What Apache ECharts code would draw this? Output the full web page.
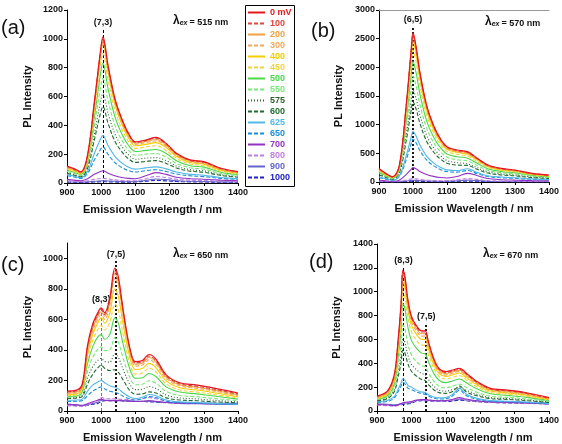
<!DOCTYPE html>
<html><head><meta charset="utf-8">
<script src="https://cdn.jsdelivr.net/npm/echarts@6/dist/echarts.min.js"></script>
<style>html,body{margin:0;padding:0;background:#fff}#c{width:562px;height:444px}</style>
</head><body><div id="c"></div>
<script>
const names = ['0 mV','100','200','300','400','450','500','550','575','600','625','650','700','800','900','1000'];
const colors = ['#e3161c','#e0453e','#f0a040','#f3a85e','#f5cc00','#f2d33c','#4cd64c','#7ae87a','#2e5e2e','#1f6b30','#52b6e6','#1a8fd6','#9232c4','#c07ee0','#6464c8','#1e22c0'];
const styles = ['solid','dashed','solid','dashed','solid','dashed','solid','dashed','dotted','dashed','solid','dashed','solid','dashed','solid','dashed'];
const xTicks = [900,1000,1100,1200,1300,1400];

// Panel (a) λex = 515 nm
const aX = [900,920,940,960,980,1000,1005,1020,1040,1060,1080,1100,1130,1160,1190,1220,1260,1300,1350,1400];
const aY = [
[118,100,78,194,563,956,1014,818,587,448,344,286,298,316,275,206,160,148,102,79],
[115,97,75,188,555,945,1000,805,578,440,338,282,294,310,270,202,157,144,100,77],
[110,94,72,182,548,935,990,795,570,432,330,276,288,302,264,198,152,140,96,74],
[105,90,70,175,540,925,980,785,560,422,322,268,280,292,256,192,148,135,92,71],
[100,86,66,168,528,915,970,770,548,410,312,258,268,280,246,184,142,130,88,68],
[95,80,62,158,495,855,900,715,505,378,288,240,250,258,226,170,132,120,82,63],
[88,75,58,145,455,790,830,655,460,342,260,218,226,232,205,155,120,110,75,58],
[80,68,52,130,400,690,725,570,400,298,228,192,200,205,180,136,106,96,66,51],
[72,60,46,112,340,590,620,485,340,255,195,165,172,176,155,118,92,84,58,45],
[68,56,43,102,300,505,530,415,290,218,168,143,150,155,136,104,82,74,52,40],
[58,48,36,80,205,315,330,260,185,140,110,96,105,112,98,76,60,54,38,30],
[50,42,31,66,160,240,250,198,142,108,86,76,86,92,80,62,50,44,32,25],
[25,20,16,30,60,82,85,68,50,38,32,30,50,72,60,40,30,26,20,16],
[15,12,10,15,25,32,33,28,22,18,16,16,30,45,38,26,20,17,13,11],
[8,7,6,8,12,15,16,14,12,10,9,10,18,28,24,16,12,10,8,7],
[5,5,4,5,7,9,10,8,7,6,6,7,12,18,15,10,8,7,5,5]];

// Panel (b) λex = 570 nm
const bX = [900,920,940,960,980,995,1000,1010,1020,1040,1060,1080,1100,1130,1160,1190,1220,1260,1300,1350,1400];
const bY = [
[238,151,93,296,1342,2330,2600,2330,1923,1342,993,761,616,558,529,412,296,238,209,151,122],
[230,146,90,288,1320,2310,2580,2310,1905,1325,980,750,606,548,518,404,290,232,204,147,118],
[222,140,86,280,1300,2285,2550,2285,1880,1305,965,738,596,538,508,396,284,226,198,143,114],
[214,135,83,272,1280,2260,2520,2255,1855,1285,950,726,585,528,498,388,278,220,193,139,110],
[205,130,80,262,1250,2200,2450,2195,1805,1250,925,706,570,514,484,378,270,214,187,135,107],
[192,122,75,246,1170,2060,2300,2060,1690,1170,865,662,535,482,454,354,254,200,176,126,100],
[178,112,70,228,1075,1885,2100,1880,1545,1070,790,605,490,440,415,324,232,184,160,116,92],
[160,100,63,205,950,1660,1850,1655,1360,940,695,532,432,388,366,285,205,162,141,102,81],
[142,90,56,182,825,1440,1600,1435,1180,815,603,462,375,337,318,248,178,140,122,89,70],
[128,80,50,162,720,1260,1400,1255,1030,712,527,404,328,295,290,218,156,123,107,78,62],
[90,56,35,110,455,790,880,790,648,450,334,258,212,200,230,165,110,86,74,54,43],
[78,48,30,95,388,673,750,673,552,384,285,220,182,172,200,142,95,74,64,47,37],
[30,20,14,32,130,225,250,225,185,130,98,78,70,95,150,110,60,40,32,24,20],
[14,10,7,12,35,55,60,55,46,34,27,23,24,38,60,45,25,16,13,10,8],
[8,6,4,7,18,28,30,28,24,18,14,12,13,20,32,24,14,9,7,6,5],
[4,3,2,4,9,14,15,14,12,9,7,6,7,10,16,12,7,5,4,3,3]];

// Panel (c) λex = 650 nm
const cX = [900,930,945,960,975,990,1000,1010,1025,1040,1050,1065,1085,1100,1120,1140,1160,1190,1230,1280,1330,1400];
const cY = [
[130,138,180,430,568,643,675,643,740,935,880,650,400,323,331,370,340,237,185,170,150,118],
[125,133,172,418,555,632,665,632,726,920,865,638,392,315,322,360,330,230,178,162,142,112],
[118,126,165,405,540,620,650,620,710,900,845,622,382,305,312,350,320,222,172,155,136,106],
[112,120,158,390,522,600,630,600,690,870,818,602,368,294,300,336,306,212,164,148,130,100],
[106,113,150,370,500,578,610,575,640,800,752,555,340,272,278,312,284,197,152,137,120,93],
[100,106,142,340,460,532,560,530,580,700,660,490,302,242,248,280,256,178,138,124,108,85],
[95,100,130,310,420,485,500,470,500,610,575,430,266,214,218,246,226,158,124,112,98,78],
[90,95,118,260,350,405,420,395,400,480,452,340,212,172,175,198,182,128,102,93,82,68],
[85,90,106,215,288,332,345,325,320,375,352,268,170,140,142,160,148,105,86,79,70,60],
[82,86,96,175,240,282,300,280,265,270,255,200,130,110,112,125,118,86,72,67,60,54],
[70,72,78,130,170,190,200,185,165,155,145,118,90,82,90,108,100,72,60,56,50,45],
[62,64,68,100,130,148,158,145,130,122,115,96,78,72,80,95,88,64,54,50,46,42],
[45,40,38,48,60,70,78,70,68,68,68,66,64,62,64,68,64,56,50,48,46,44],
[35,32,30,38,55,70,90,82,80,80,78,76,74,72,80,88,80,64,56,52,48,44],
[42,38,36,42,50,58,72,70,70,70,70,68,66,64,64,64,60,56,54,52,50,50],
[40,36,34,38,45,50,62,68,68,68,68,66,64,62,62,60,58,55,52,50,48,48]];

// Panel (d) λex = 670 nm
const dX = [900,930,950,960,970,975,980,990,1000,1015,1030,1040,1050,1065,1080,1100,1120,1140,1160,1190,1230,1280,1330,1400];
const dY = [
[126,167,303,549,904,1180,1150,931,795,713,672,672,576,440,358,330,344,358,317,248,190,175,155,112],
[122,162,296,540,892,1168,1138,920,786,704,662,662,566,432,350,322,336,350,310,242,185,170,150,108],
[118,156,288,528,875,1150,1120,905,772,690,648,648,553,422,342,314,328,342,302,236,180,165,145,105],
[114,150,278,512,850,1120,1090,880,750,670,628,628,535,408,330,303,317,332,292,228,174,158,140,101],
[110,144,266,490,815,1080,1050,846,720,642,600,600,512,390,316,290,304,318,280,219,167,152,134,97],
[105,136,248,455,755,1000,972,782,665,592,552,552,470,360,292,268,282,296,260,204,156,142,125,92],
[100,128,228,415,682,900,875,700,592,525,485,480,410,316,258,238,252,268,236,186,144,131,116,87],
[95,118,200,355,560,720,700,558,470,415,380,372,318,250,208,194,208,224,198,158,124,114,102,80],
[90,110,180,310,470,600,585,465,392,345,314,305,262,208,176,166,180,196,174,140,112,104,94,75],
[86,102,162,268,405,510,496,395,333,292,264,255,220,178,154,148,164,210,160,128,104,97,88,72],
[78,88,120,175,235,270,262,215,200,175,160,155,136,118,110,112,140,190,140,106,88,82,76,64],
[72,80,108,155,210,240,232,192,180,160,146,140,124,108,100,102,128,175,128,98,82,77,72,60],
[55,50,45,50,62,70,72,75,80,92,95,95,92,88,86,88,98,112,100,86,76,72,68,60],
[50,45,42,45,55,65,68,72,75,88,92,90,88,84,82,84,92,105,92,80,72,68,64,58],
[60,56,52,55,60,65,66,68,72,88,92,92,90,88,86,86,90,98,92,84,78,74,70,66],
[52,48,45,48,52,56,58,60,65,82,86,86,84,82,80,80,84,90,86,78,72,68,65,60]];

// y-axis ranges
const yMax = [1200,3000,1100,1400];
const yStep = [200,500,200,200];
const excitation = ['515','570','650','670'];
const panelTags = ['(a)','(b)','(c)','(d)'];
// assignment markers: [wavelength, line top, label, style]
const peaksA = [[1005,1065,'(7,3)','a']];
const peaksB = [[1000,2720,'(6,5)','b']];
const peaksC = [[1000,690,'(8,3)','g'],[1043,985,'(7,5)','b']];
const peaksD = [[977,1205,'(8,3)','a'],[1043,735,'(7,5)','b']];

const panels = [
  {x:aX, y:aY, peaks:peaksA, grid:{left:67, top:10, width:171, height:173}},
  {x:bX, y:bY, peaks:peaksB, grid:{left:379, top:10, width:171, height:172}},
  {x:cX, y:cY, peaks:peaksC, grid:{left:67, top:243, width:171, height:172}},
  {x:dX, y:dY, peaks:peaksD, grid:{left:377, top:244, width:173, height:171}}
];

const FF = 'Arial, "Liberation Sans", sans-serif';
const grids = [], xAxes = [], yAxes = [], series = [], graphics = [];
const tickLab = {fontSize:9, fontWeight:'bold', color:'#111', fontFamily:FF, formatter: v => String(v)};
const dashOf = k => styles[k]==='dashed' ? [4,2] : (styles[k]==='dotted' ? [1,2] : 'solid');

panels.forEach((p, gi) => {
  grids.push(Object.assign({containLabel:false}, p.grid));
  xAxes.push({gridIndex:gi, type:'value', min:900, max:1400, interval:100,
    name:'Emission Wavelength / nm', nameLocation:'middle', nameGap:21,
    nameTextStyle:{fontWeight:'bold', fontSize:11, color:'#111', fontFamily:FF},
    axisLine:{lineStyle:{color:'#000', width:1}},
    axisTick:{length:3, lineStyle:{color:'#000'}},
    axisLabel:Object.assign({margin:5}, tickLab),
    splitLine:{show:false}});
  yAxes.push({gridIndex:gi, type:'value', min:0, max:yMax[gi], interval:yStep[gi],
    name:'PL Intensity', nameLocation:'middle', nameGap: gi===1||gi===3 ? 35 : 34,
    nameTextStyle:{fontWeight:'bold', fontSize:11, color:'#111', fontFamily:FF},
    axisLine:{show:true, lineStyle:{color:'#000', width:1}},
    axisTick:{show:true, length:3, lineStyle:{color:'#000'}},
    axisLabel:Object.assign({margin:4, showMaxLabel: yMax[gi] % yStep[gi] === 0}, tickLab),
    splitLine:{show:false}});
  for (let k = names.length - 1; k >= 0; k--) {
    const s = {
      type:'line', name:names[k], xAxisIndex:gi, yAxisIndex:gi,
      data:p.x.map((xv, j) => [xv, p.y[k][j]]),
      smooth:0.35, symbol:'none', silent:true,
      lineStyle:{color:colors[k], width: k===0 ? 1.2 : 1.1, type: dashOf(k)},
      itemStyle:{color:colors[k]}, z: 10 + (names.length - k)
    };
    if (k === 0) {
      s.markLine = {silent:true, symbol:['none','none'], animation:false,
        data:p.peaks.map(pk => [
          {coord:[pk[0],0],
           lineStyle:{color: pk[3]==='g' ? '#777' : '#000', width: pk[3]==='b' ? 1.8 : 1, type: pk[3]==='b' ? [2,2] : [3,2]},
           label:{show:true, position:'end', formatter:pk[2], distance:2, color:'#111', fontSize:9, fontWeight:'bold', fontFamily:FF}},
          {coord:[pk[0],pk[1]]}])};
    }
    series.push(s);
  }
});

// top frame line on panel (b)
xAxes.push({gridIndex:1, type:'value', position:'top', min:900, max:1400,
  axisLine:{show:true, lineStyle:{color:'#999', width:1}}, axisTick:{show:false}, axisLabel:{show:false}, splitLine:{show:false}});

const tagPos = [[1,18],[311,21],[1,255],[309,252]];
const exPos = [[173,15],[485,16],[173,248],[483,248]];
panelTags.forEach((t, i) => {
  graphics.push({type:'text', left:tagPos[i][0], top:tagPos[i][1],
    style:{text:t, fontSize:20, fontFamily:FF, fill:'#111'}});
  graphics.push({type:'text', left:exPos[i][0], top:exPos[i][1],
    style:{text:'{l|λ}{s|ex}{n|= ' + excitation[i] + ' nm}', rich:{
      l:{fontSize:12, fontWeight:'bold', fontFamily:FF, fill:'#111', verticalAlign:'bottom'},
      s:{fontSize:7, fontWeight:'bold', fontStyle:'italic', fontFamily:FF, fill:'#111', verticalAlign:'bottom', padding:[0,2,0,0]},
      n:{fontSize:9, fontWeight:'bold', fontFamily:FF, fill:'#111', verticalAlign:'bottom'}}}});
});
graphics.push({type:'rect', left:243, top:3, shape:{width:49, height:181},
  style:{fill:'none', stroke:'#000', lineWidth:1}});

const chart = echarts.init(document.getElementById('c'), null, {renderer:'canvas'});
chart.setOption({
  animation:false, backgroundColor:'#fff',
  grid:grids, xAxis:xAxes, yAxis:yAxes, series:series, graphic:graphics,
  legend:{orient:'vertical', left:247, top:8, padding:0, itemWidth:17, itemHeight:8, itemGap:2,
    selectedMode:false, itemStyle:{opacity:0, borderWidth:0},
    data:names.map((n, k) => ({name:n,
      textStyle:{color:colors[k], fontWeight:'bold', fontSize:9, fontFamily:FF}}))}
});
</script></body></html>
